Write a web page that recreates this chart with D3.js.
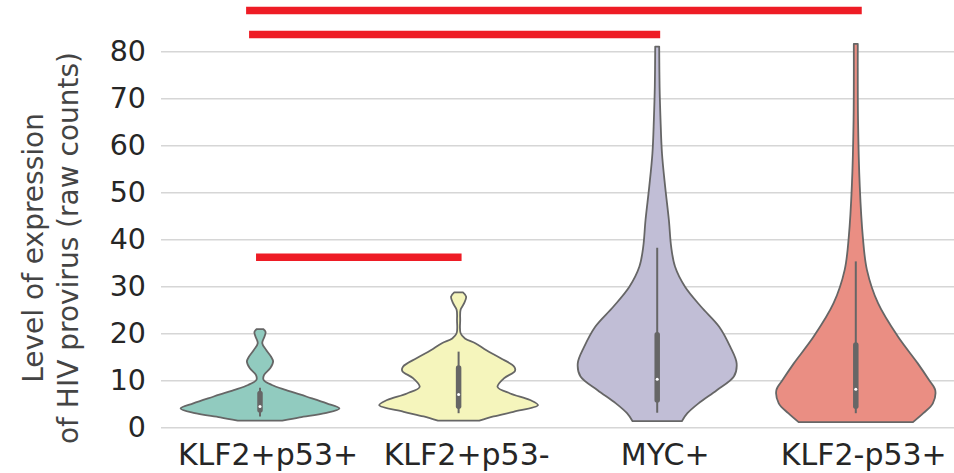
<!DOCTYPE html>
<html>
<head>
<meta charset="utf-8">
<script src="https://cdn.jsdelivr.net/npm/d3@7"></script>
<style>
  html, body { margin: 0; padding: 0; background: #fff; }
  svg { display: block; }
  text { font-family: "DejaVu Sans", sans-serif; }
</style>
</head>
<body>
<svg id="chart" width="954" height="473"></svg>
<script>
// ---- data ----
const categories = ["KLF2+p53+", "KLF2+p53-", "MYC+", "KLF2-p53+"];
const colors = ["#91cbbf", "#f5f5bc", "#c1bed6", "#ea8e83"];
const yTicks = [0, 10, 20, 30, 40, 50, 60, 70, 80];

// violin density profiles: [value, relative density (1 = widest)]
const densityKLF2p53p = [
  [1.4, 0.28], [2.1, 0.50], [3.0, 0.82], [4.0, 1.00], [5.1, 0.84], [6.5, 0.59],
  [7.9, 0.33], [9.0, 0.15], [10.1, 0.045], [11.1, 0.05], [12.6, 0.13], [14.0, 0.165],
  [15.0, 0.14], [16.4, 0.08], [17.9, 0.028], [19.3, 0.057], [20.3, 0.07], [20.9, 0.04]
];
const densityKLF2p53m = [
  [1.4, 0.26], [2.3, 0.44], [3.3, 0.69], [4.7, 1.00], [5.8, 0.90], [7.2, 0.65],
  [8.6, 0.49], [10.4, 0.57], [12.0, 0.71], [12.9, 0.70], [14.7, 0.53], [16.4, 0.35],
  [17.9, 0.21], [18.9, 0.08], [20.0, 0.025], [22.8, 0.02], [25.0, 0.025], [26.4, 0.07],
  [27.8, 0.095], [28.7, 0.055]
];
const densityMYC = [
  [1.3, 0.31], [3.0, 0.38], [5.1, 0.52], [7.9, 0.75], [10.8, 0.965], [13.6, 1.00],
  [17.1, 0.92], [21.4, 0.78], [25.7, 0.55], [29.9, 0.35], [34.2, 0.224], [38.4, 0.176],
  [44.1, 0.147], [51.2, 0.10], [58.3, 0.06], [65.4, 0.042], [72.5, 0.03], [81.0, 0.025]
];
const densityKLF2mp53p = [
  [1.1, 0.72], [3.0, 0.85], [5.1, 0.97], [7.9, 1.00], [10.1, 0.92], [13.6, 0.78],
  [19.3, 0.53], [26.4, 0.28], [33.5, 0.14], [40.6, 0.088], [51.2, 0.05], [65.4, 0.028],
  [81.6, 0.025]
];
const densities = [densityKLF2p53p, densityKLF2p53m, densityMYC, densityKLF2mp53p];

// box summaries: whisker low, q1, median, q3, whisker high
const whiskerLow = [2.3, 3.0, 3.1, 3.0];
const q1 = [3.7, 4.5, 5.8, 4.5];
const medians = [4.4, 7.0, 10.2, 8.1];
const q3 = [7.2, 12.6, 19.7, 17.5];
const whiskerHigh = [8.4, 16.1, 38.2, 35.3];

// significance bars: from category index, to category index, level
const sigFrom = [-0.07, -0.055, -0.02];
const sigTo = [3.03, 2.015, 1.015];
const sigLevel = [88.7, 83.6, 36.2];

// ---- chart ----
const svg = d3.select("#chart");
const x = d3.scaleBand().domain(categories).range([160.7, 955.1]).padding(0);
const y = d3.scaleLinear().domain([0, 80]).range([427.3, 51.3]);
const idx = d3.scaleLinear().domain([0, 3])
  .range([x(categories[0]) + x.bandwidth() / 2, x(categories[3]) + x.bandwidth() / 2]);
const halfW = d3.scaleLinear().domain([0, 1]).range([0, x.bandwidth() * 0.4]);

// y grid + tick labels
const yAxis = d3.axisLeft(y).tickValues(yTicks).tickSize(-(954 - 161)).tickPadding(15);
const gy = svg.append("g").attr("transform", "translate(161,0)").call(yAxis);
gy.select(".domain").remove();
gy.selectAll(".tick line").attr("stroke", "#d6d6d6").attr("stroke-width", 1.6);
gy.selectAll(".tick text")
  .attr("font-size", 28.5).attr("fill", "#262626")
  .attr("font-family", "DejaVu Sans");

// x labels
const xAxis = d3.axisBottom(x).tickSize(0).tickPadding(0);
const gx = svg.append("g").attr("transform", "translate(8,465)").call(xAxis);
gx.select(".domain").remove();
gx.selectAll(".tick text")
  .attr("dy", 0).attr("y", 0)
  .attr("font-size", 30).attr("fill", "#262626")
  .attr("font-family", "DejaVu Sans");

// y label
const ylab = svg.append("g").attr("fill", "#444").attr("font-size", 28);
ylab.append("text").attr("transform", "translate(43,248) rotate(-90)")
  .attr("text-anchor", "middle").text("Level of expression");
ylab.append("text").attr("transform", "translate(78,248) rotate(-90)")
  .attr("text-anchor", "middle").text("of HIV provirus (raw counts)");

// violins
categories.forEach((c, i) => {
  const cx = x(c) + x.bandwidth() / 2;
  const area = d3.area()
    .y(d => y(d[0]))
    .x0(d => cx - halfW(d[1]))
    .x1(d => cx + halfW(d[1]))
    .curve(d3.curveCatmullRom.alpha(0.5));
  svg.append("path")
    .datum(densities[i])
    .attr("d", area)
    .attr("fill", colors[i])
    .attr("stroke", "#666")
    .attr("stroke-width", 1.8)
    .attr("stroke-linejoin", "round");

  // whisker
  svg.append("line")
    .attr("x1", cx).attr("x2", cx)
    .attr("y1", y(whiskerLow[i])).attr("y2", y(whiskerHigh[i]))
    .attr("stroke", "#666").attr("stroke-width", 2);
  // box
  svg.append("line")
    .attr("x1", cx).attr("x2", cx)
    .attr("y1", y(q1[i])).attr("y2", y(q3[i]))
    .attr("stroke", "#666").attr("stroke-width", 5.5).attr("stroke-linecap", "round");
  // median
  svg.append("circle")
    .attr("cx", cx).attr("cy", y(medians[i])).attr("r", 1.5)
    .attr("fill", "#fff");
});

// significance bars
sigLevel.forEach((lv, i) => {
  svg.append("line")
    .attr("x1", idx(sigFrom[i])).attr("x2", idx(sigTo[i]))
    .attr("y1", y(lv)).attr("y2", y(lv))
    .attr("stroke", "#ee1c25").attr("stroke-width", 7.5);
});
</script>
</body>
</html>
